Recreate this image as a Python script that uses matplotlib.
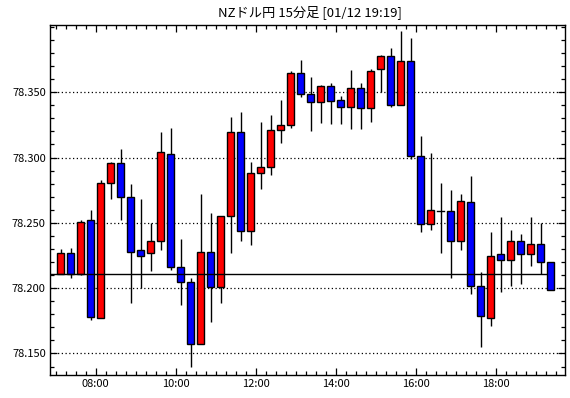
import matplotlib
matplotlib.use("Agg")
import matplotlib.pyplot as plt
from matplotlib.patches import Rectangle
from matplotlib.ticker import MultipleLocator, FixedLocator, FuncFormatter

plt.rcParams['font.family'] = ['Noto Sans CJK JP', 'DejaVu Sans']

title = "NZドル円 15分足 [01/12 19:19]"
start_time = "07:00"   # first candle
interval_min = 15

opens = [78.2111, 78.2271, 78.2106, 78.2523, 78.1775, 78.2805, 78.2958, 78.2698, 78.2294, 78.2271,
         78.2363, 78.3027, 78.2164, 78.2050, 78.1576, 78.2279, 78.2011, 78.2553, 78.3195, 78.2439,
         78.2882, 78.2927, 78.3210, 78.3251, 78.3645, 78.3485, 78.3424, 78.3546, 78.3439, 78.3385,
         78.3531, 78.3378, 78.3676, 78.3775, 78.3406, 78.3737, 78.3009, 78.2492, 78.2592, 78.2592,
         78.2363, 78.2660, 78.2019, 78.1775, 78.2263, 78.2218, 78.2363, 78.2263, 78.2340, 78.2202]
highs = [78.2296, 78.2304, 78.2523, 78.2602, 78.2831, 78.2966, 78.3067, 78.2798, 78.2686, 78.2500,
         78.3197, 78.3225, 78.2380, 78.2075, 78.2721, 78.2576, 78.2553, 78.3312, 78.3347, 78.2963,
         78.3276, 78.3327, 78.3441, 78.3663, 78.3747, 78.3617, 78.3556, 78.3571, 78.3472, 78.3670,
         78.3571, 78.3678, 78.3785, 78.3841, 78.3968, 78.3917, 78.3162, 78.3032, 78.2805, 78.2754,
         78.2724, 78.2861, 78.2121, 78.2431, 78.2543, 78.2449, 78.2411, 78.2543, 78.2500, 78.2202]
lows = [78.2111, 78.2080, 78.2101, 78.1757, 78.1775, 78.2683, 78.2520, 78.1889, 78.2004, 78.2131,
        78.2291, 78.2139, 78.1872, 78.1393, 78.1576, 78.1744, 78.1889, 78.2266, 78.2360, 78.2330,
        78.2760, 78.2864, 78.3111, 78.3225, 78.3467, 78.3207, 78.3268, 78.3256, 78.3256, 78.3218,
        78.3218, 78.3271, 78.3505, 78.3385, 78.3406, 78.2986, 78.2431, 78.2444, 78.2268, 78.2080,
        78.2291, 78.1958, 78.1553, 78.1711, 78.1973, 78.2017, 78.2034, 78.2172, 78.2106, 78.1989]
closes = [78.2271, 78.2106, 78.2508, 78.1782, 78.2805, 78.2958, 78.2698, 78.2276, 78.2248, 78.2363,
          78.3042, 78.2164, 78.2050, 78.1576, 78.2279, 78.2011, 78.2553, 78.3195, 78.2439, 78.2882,
          78.2927, 78.3210, 78.3251, 78.3645, 78.3485, 78.3424, 78.3546, 78.3436, 78.3385, 78.3531,
          78.3378, 78.3665, 78.3775, 78.3406, 78.3737, 78.3009, 78.2492, 78.2599, 78.2592, 78.2363,
          78.2668, 78.2019, 78.1790, 78.2248, 78.2218, 78.2363, 78.2263, 78.2340, 78.2202, 78.1989]

ref_level = 78.2111
ref_end_time = "19:15"
x_tick_labels = ["08:00", "10:00", "12:00", "14:00", "16:00", "18:00"]
y_tick_values = [78.150, 78.200, 78.250, 78.300, 78.350]

def to_min(s):
    h, m = s.split(":")
    return int(h) * 60 + int(m)

t0 = to_min(start_time)
centers = [t0 + interval_min * (i + 0.5) for i in range(len(opens))]

fig = plt.figure(figsize=(5.70, 3.98), dpi=100)
ax = fig.add_axes([50 / 570, 1 - 375 / 398, 515 / 570, 350 / 398])

body_w = 9.3
for x, o, h, l, c in zip(centers, opens, highs, lows, closes):
    ax.plot([x, x], [l, h], color='black', lw=1.0, zorder=2, solid_capstyle='butt')
    color = '#FF0000' if c >= o else '#0000FF'
    lo, hi = min(o, c), max(o, c)
    if hi - lo < 1e-5:
        ax.plot([x - body_w / 2, x + body_w / 2], [o, o], color='black', lw=1.0, zorder=3)
    else:
        ax.add_patch(Rectangle((x - body_w / 2, lo), body_w, hi - lo, facecolor=color,
                               edgecolor='black', lw=1.0, zorder=3))

xmin, xmax = 411.75, 1184.25
ax.set_xlim(xmin, xmax)
ax.set_ylim(78.1335, 78.4015)

ax.plot([xmin, to_min(ref_end_time)], [ref_level, ref_level], color='black', lw=1.0, zorder=4)

for yv in y_tick_values:
    ax.axhline(yv, color='black', lw=0.9, ls=(0, (1, 2)), zorder=1)

ax.xaxis.set_major_locator(FixedLocator([to_min(s) for s in x_tick_labels]))
ax.xaxis.set_major_formatter(FuncFormatter(lambda v, p: "%02d:%02d" % (int(v) // 60, int(v) % 60)))
ax.xaxis.set_minor_locator(MultipleLocator(15))
ax.yaxis.set_major_locator(FixedLocator(y_tick_values))
ax.yaxis.set_major_formatter(FuncFormatter(lambda v, p: "%.3f" % v))
ax.yaxis.set_minor_locator(MultipleLocator(0.01))

ax.tick_params(axis='both', which='both', direction='in', top=True, right=True,
               labelsize=8, colors='black', width=0.9)
ax.tick_params(axis='both', which='major', length=5, pad=3)
ax.tick_params(axis='both', which='minor', length=3)
for sp in ax.spines.values():
    sp.set_linewidth(1.0)
    sp.set_color('black')

fig.text(0.5 + 25 / 570, 1 - 12 / 398, title, ha='center', va='center', fontsize=9.5)

fig.savefig("out.png", dpi=100, facecolor='white')
